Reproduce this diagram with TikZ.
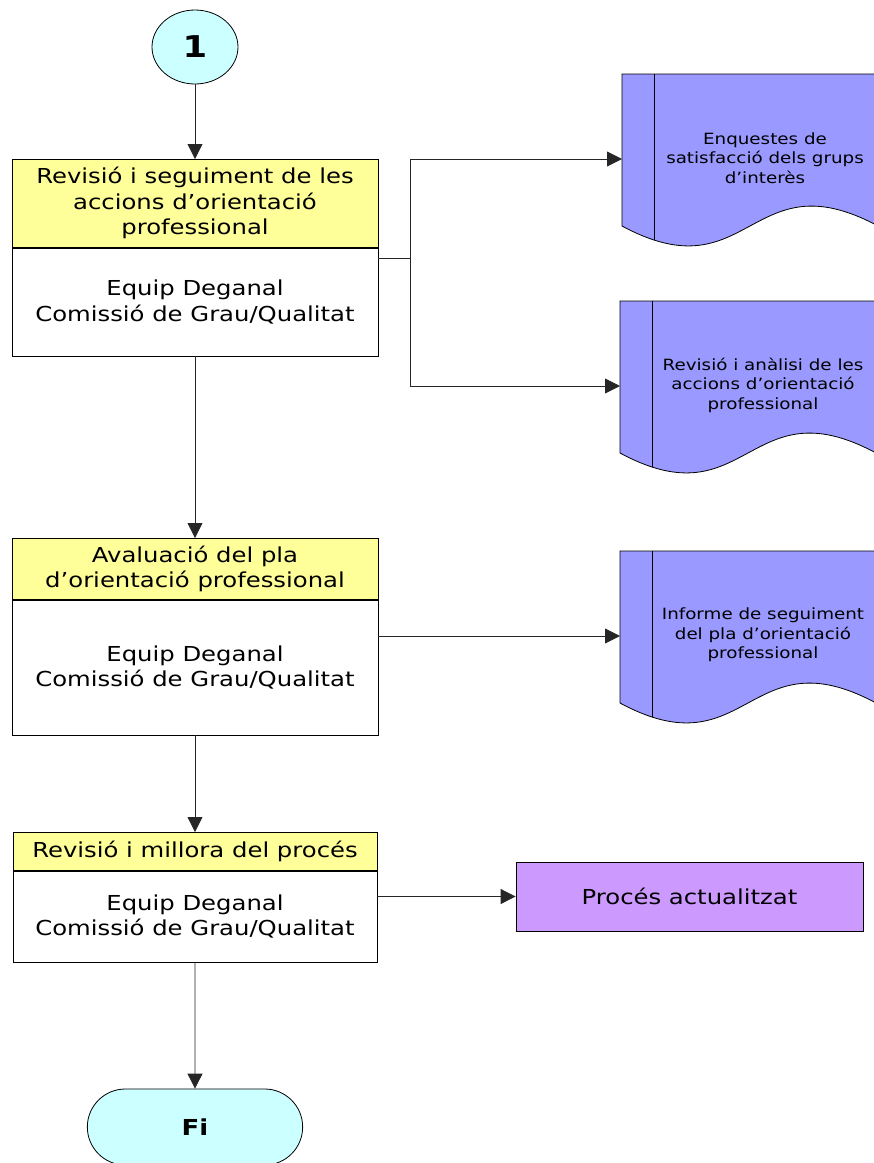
\documentclass[tikz,border=0pt]{standalone}
\usepackage{fontspec}
\setmainfont{DejaVu Sans}[FakeStretch=1.18]
\usetikzlibrary{arrows.meta,shapes.geometric,shapes.misc}
\definecolor{groc}{HTML}{FFFF99}
\definecolor{blau}{HTML}{9999FF}
\definecolor{cian}{HTML}{CCFFFF}
\definecolor{lila}{HTML}{CC99FF}
\begin{document}
\begin{tikzpicture}[x=1pt,y=-1pt,
		linia/.style={line width=0.8pt, draw=black!85},
		fletxa/.style={linia, -{Triangle[length=15pt,width=15pt]}},
		capcalera/.style={draw, line width=0.7pt, fill=groc, anchor=north, minimum width=366pt, inner sep=0pt, align=center, font=\fontsize{20.6}{25.5}\selectfont},
		cos/.style={capcalera, fill=white},
		document/.style={draw, line width=0.8pt, fill=blau},
		doctext/.style={align=center, font=\fontsize{15.5}{19.5}\selectfont}]
		%Fons
		\useasboundingbox (0,0) rectangle (874,1163);
		% Inici
		\node[ellipse, draw, line width=0.8pt, fill=cian, minimum width=86pt, minimum height=74pt, inner sep=0pt, font=\bfseries\fontsize{30}{30}\selectfont] (inici) at (195,47) {1};
		% Activitats
		\node[capcalera, minimum height=88pt] (act1) at (195,159) {Revisió i seguiment de les\\accions d’orientació\\professional};
		\node[cos, minimum height=108pt] (resp1) at (act1.south) {Equip Deganal\\Comissió de Grau/Qualitat};
		\node[capcalera, minimum height=61pt] (act2) at (195,538) {Avaluació del pla\\d’orientació professional};
		\node[cos, minimum height=135pt] (resp2) at (act2.south) {Equip Deganal\\Comissió de Grau/Qualitat};
		\node[capcalera, minimum height=38pt, minimum width=364pt] (act3) at (195,832) {Revisió i millora del procés};
		\node[cos, minimum height=91pt, minimum width=364pt] (resp3) at (act3.south) {Equip Deganal\\Comissió de Grau/Qualitat};
		% Documents
		\foreach \nom/\xa/\ya/\txt in {doc1/622/74/{Enquestes de\\satisfacció dels grups\\d’interès}, doc2/620/301/{Revisió i anàlisi de les\\accions d’orientació\\professional}, doc3/620/551/{Informe de seguiment\\del pla d’orientació\\professional}} {
			\draw[document] (\xa+256,\ya) -- (\xa,\ya) -- (\xa,\ya+152) .. controls (\xa+128,\ya+221) and (\xa+128,\ya+83) .. (\xa+256,\ya+152) -- cycle;
			\draw[line width=0.8pt] (\xa+32,\ya) -- (\xa+32,\ya+166);
			\node[doctext] (\nom) at (\xa+143,\ya+84) {\txt};
			\coordinate (\nom-in) at (\xa,\ya+85);
		}
		% Sortida
		\node[draw, line width=0.8pt, fill=lila, minimum width=347pt, minimum height=69pt, font=\fontsize{20.6}{25.5}\selectfont] (proces) at (689.5,896.5) {Procés actualitzat};
		% Final
		\node[rounded rectangle, draw, line width=0.8pt, fill=cian, minimum width=222pt, minimum height=76pt, font=\bfseries\fontsize{22}{22}\selectfont] (fi) at (195,1127) {Fi};
		% Fletxes
		\coordinate (branca) at (410,258);
		\draw[fletxa] (inici) -- (act1);
		\draw[linia] (resp1.east |- branca) -- (branca);
		\draw[fletxa] (branca) |- (doc1-in);
		\draw[fletxa] (branca) |- (doc2-in);
		\draw[fletxa] (resp1) -- (act2);
		\draw[fletxa] (resp2.east |- doc3-in) -- (doc3-in);
		\draw[fletxa] (resp2) -- (act3);
		\draw[fletxa] (resp3.east |- proces) -- (proces);
		\draw[fletxa] (resp3) -- (fi);
\end{tikzpicture}
\end{document}
